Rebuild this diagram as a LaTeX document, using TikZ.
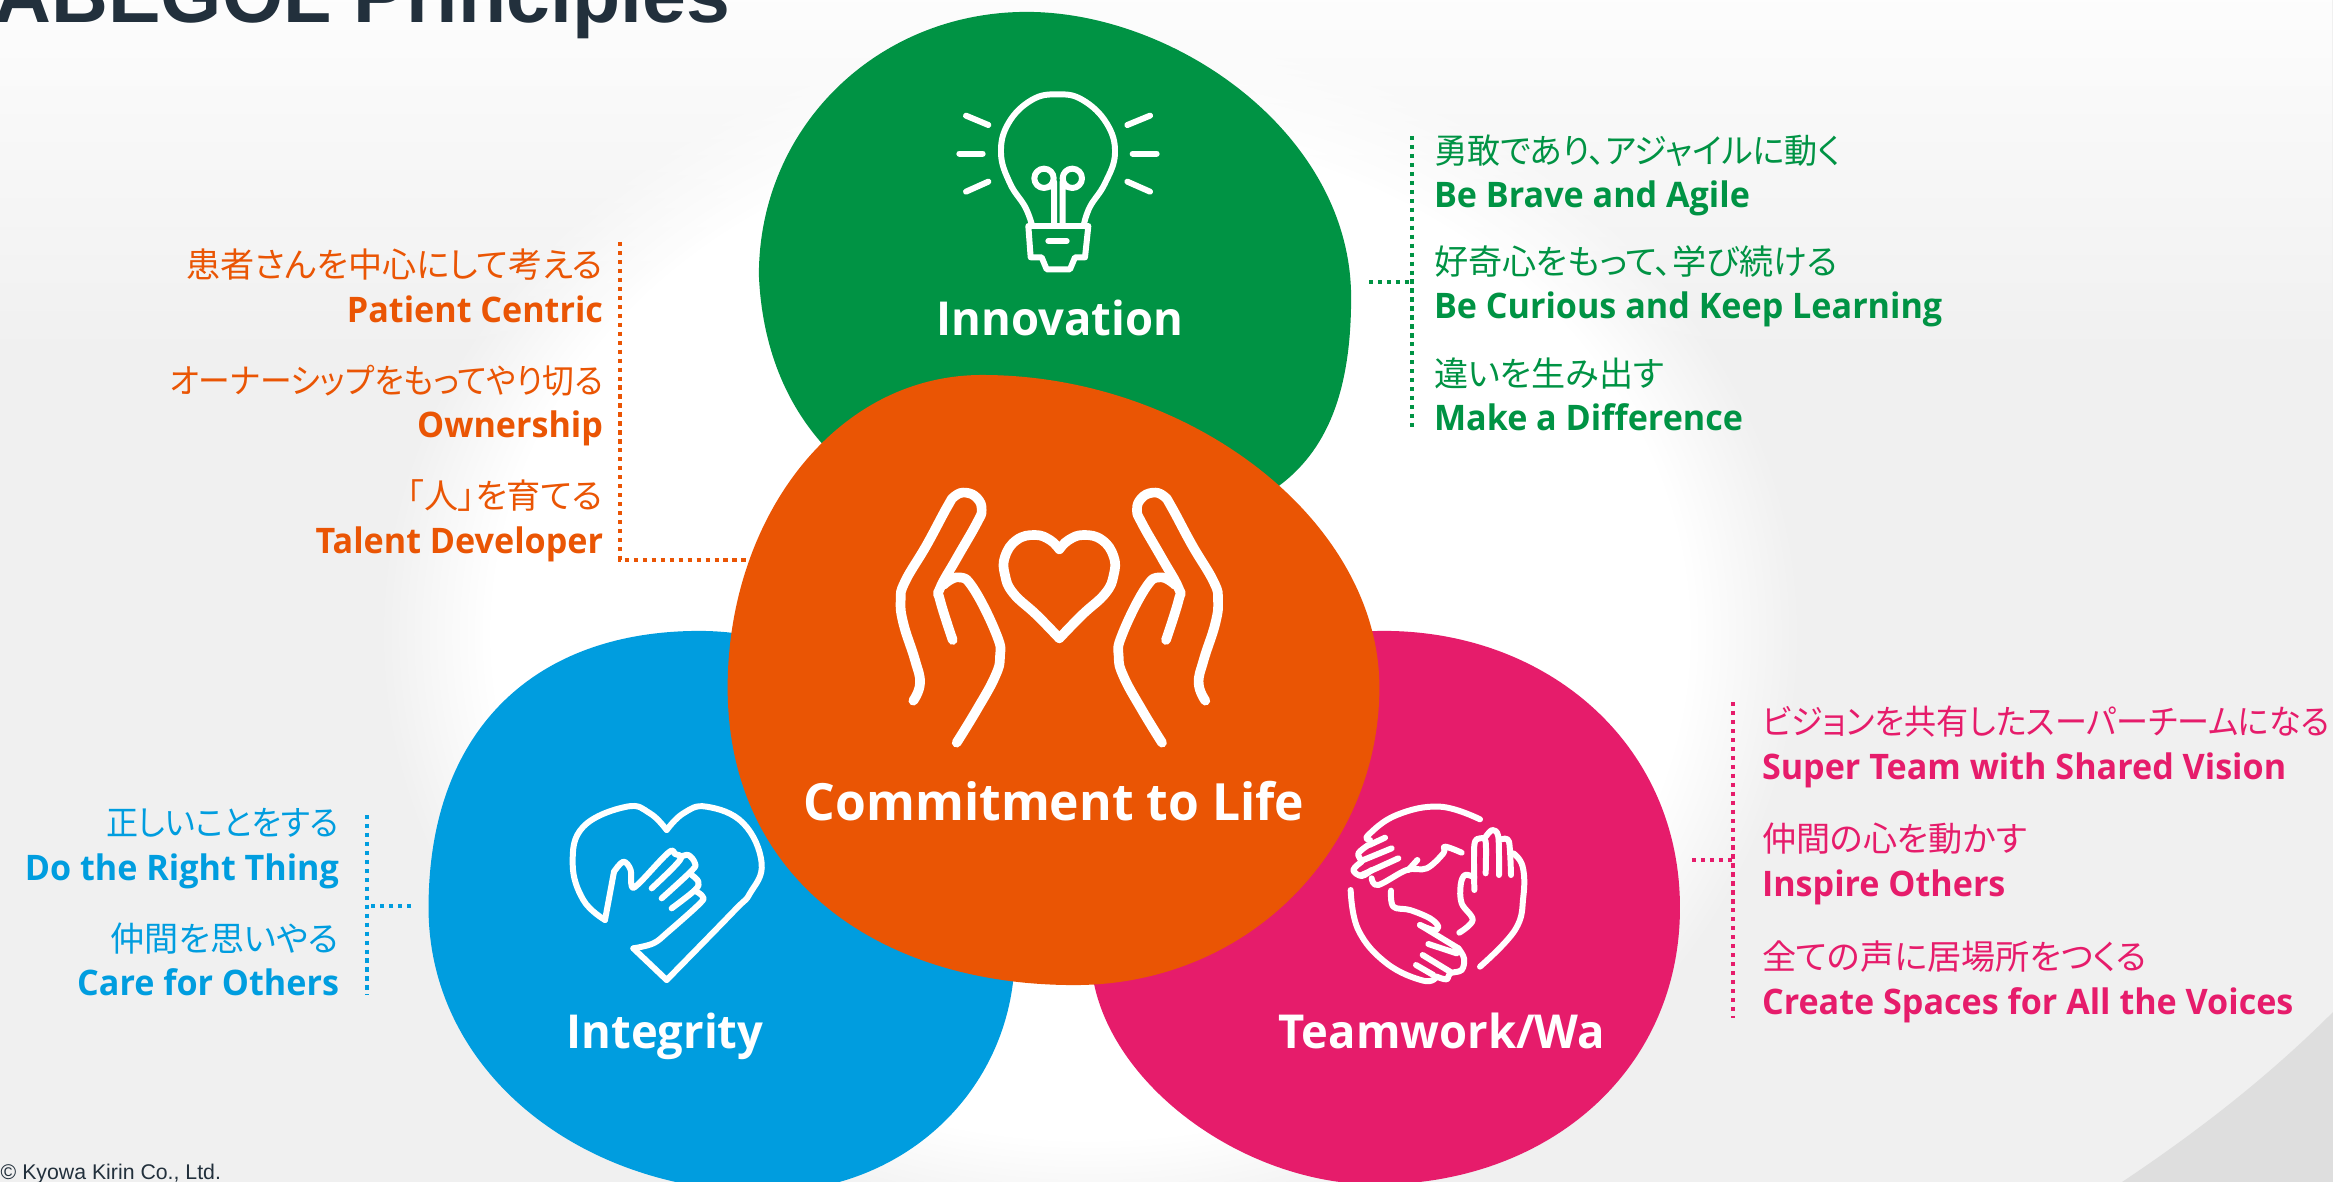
\documentclass[tikz,border=0pt]{standalone}
\usepackage{fontspec}
\usepackage{xcolor}
\usetikzlibrary{positioning,fadings}
\newfontfamily\enfont[FakeStretch=0.97]{Open Sans}
\newfontfamily\jpfont[RawFeature={+palt}]{Noto Sans CJK JP}
\newfontfamily\arialfont{Liberation Sans}
\definecolor{bggray}{HTML}{F0F0F0}
\definecolor{swoosh}{HTML}{DEDEDE}
\definecolor{kkgreen}{HTML}{009344}
\definecolor{kkorange}{HTML}{EA5504}
\definecolor{kkblue}{HTML}{009DDF}
\definecolor{kkpink}{HTML}{E61C6B}
\definecolor{kknavy}{HTML}{22303C}
\pgfdeclareradialshading{glowbg}{\pgfpointorigin}{color(0bp)=(white);color(21bp)=(white);color(25bp)=(bggray);color(50bp)=(bggray)}
\newcommand{\narrowjp}[2]{\scalebox{#1}[1]{#2}}

\begin{document}
\begin{tikzpicture}[
    x=0.01cm, y=-0.01cm,
    icon/.style={draw=white, line width=#1, line cap=round, line join=round},
    icon/.default=1.7pt,
    jptext/.style={inner sep=0pt, outer sep=0pt, text height=8.5pt, text depth=1.5pt, font=\jpfont\fontsize{9.7pt}{11pt}\selectfont},
    entext/.style={inner sep=0pt, outer sep=0pt, text height=8.35pt, text depth=1.65pt, font=\enfont\bfseries\fontsize{10pt}{12pt}\selectfont},
    blobtext/.style={inner sep=0pt, text=white, font=\enfont\bfseries\fontsize{13.3pt}{15pt}\selectfont},
    dots/.style={line width=1.15pt, dash pattern=on 1.2pt off 1.35pt}
]
\path[use as bounding box, clip] (0,0) rectangle (2333,1182);

% background
\fill[bggray] (0,0) rectangle (2333,1182);
\shade[shading=glowbg] (1090,634) ellipse [x radius=710, y radius=600];
\fill[white, path fading=south] (0,-55) rectangle (2333,365);
\fill[swoosh] (2122,1182) .. controls (2200,1130) and (2270,1075) .. (2333,1012) -- (2333,1182) -- cycle;

% blobs
\begin{scope}[scale=1.488]
\fill[kkblue] (470,424) .. controls (360,424) and (288,490) .. (288,610) .. controls (288,720) and (390,801) .. (515,801) .. controls (610,801) and (682,730) .. (682,640) .. controls (682,520) and (580,424) .. (470,424) -- cycle;
\fill[kkpink] (930,424) .. controls (1040,424) and (1129,500) .. (1129,610) .. controls (1129,720) and (1040,796) .. (925,796) .. controls (830,796) and (733,720) .. (733,640) .. controls (733,520) and (820,424) .. (930,424) -- cycle;
\fill[kkgreen] (690,8) .. controls (790,8) and (908,90) .. (908,200) .. controls (908,320) and (850,360) .. (710,360) .. controls (600,360) and (515,300) .. (510,185) .. controls (510,85) and (590,8) .. (690,8) -- cycle;
\fill[kkorange] (660,252) .. controls (800,252) and (927,350) .. (927,462) .. controls (927,570) and (840,662) .. (722,662) .. controls (590,662) and (489,590) .. (489,462) .. controls (489,350) and (560,252) .. (660,252) -- cycle;
\end{scope}

% bulb
\begin{scope}[shift={(900,50)}, scale=1/3]
\draw[icon] plot[smooth, tension=.7] coordinates {(395,522) (375,470) (330,400) (303,310) (325,220) (395,150) (473,133) (548,150) (620,220) (645,310) (615,400) (570,470) (552,522)};
\draw[icon] (385,528) -- (392,622) -- (425,622) -- (440,658) -- (510,658) -- (525,622) -- (555,622) -- (565,528) -- cycle;
\draw[icon] (445,573) -- (500,573);
\draw[icon] (462,522) -- (462,395) -- (450,410) (432,385) circle (29);
\draw[icon] (488,522) -- (488,395) -- (500,410) (517,385) circle (29);
\draw[icon] (198,197) -- (265,225);
\draw[icon] (178,311) -- (248,311);
\draw[icon] (198,425) -- (265,395);
\draw[icon] (750,197) -- (682,225);
\draw[icon] (770,311) -- (698,311);
\draw[icon] (750,425) -- (682,395);
\end{scope}

% hands and heart
\begin{scope}[shift={(860,460)}, scale=1/3]
\draw[icon=2.75pt] plot[smooth, tension=.75] coordinates {(160,722) (180,670) (165,600) (130,490) (122,420) (135,365) (200,255) (262,140) (285,108) (318,98) (352,115) (365,150) (350,190) (290,295) (240,385) (240,420) (278,540)};
\draw[icon=2.75pt] plot[smooth, tension=.75] coordinates {(290,848) (350,750) (405,650) (420,590) (410,525) (340,385) (295,352) (250,375)};
\draw[icon=2.75pt] plot[smooth, tension=.75] coordinates {(598,268) (570,240) (525,225) (470,240) (435,290) (435,345) (460,400) (530,465) (598,535)};
\draw[icon=2.75pt] plot[smooth, tension=.75] coordinates {(598,268) (626,240) (671,225) (726,240) (761,290) (761,345) (736,400) (666,465) (598,535)};
\draw[icon=2.75pt] plot[smooth, tension=.75] coordinates {(1036,722) (1016,670) (1031,600) (1066,490) (1074,420) (1061,365) (996,255) (934,140) (911,108) (878,98) (844,115) (831,150) (846,190) (906,295) (956,385) (956,420) (918,540)};
\draw[icon=2.75pt] plot[smooth, tension=.75] coordinates {(906,848) (846,750) (791,650) (776,590) (786,525) (856,385) (901,352) (946,375)};
\end{scope}

% heart with hand
\begin{scope}[shift={(540,780)}, scale=1/3]
\draw[icon] plot[smooth, tension=.7] coordinates {(195,420) (130,360) (98,250) (130,140) (260,80) (330,100) (380,150)};
\draw[icon] plot[smooth, tension=.7] coordinates {(380,150) (430,100) (500,80) (610,130) (665,250) (630,340) (580,395) (380,600)};
\draw[icon] (380,600) -- (280,505);
\draw[icon] (195,420) -- (222,275);
\draw[icon] plot[smooth, tension=.6] coordinates {(222,275) (250,245) (272,270) (275,318) (295,312) (385,218) (405,222) (420,240) (335,325)};
\draw[icon] plot[smooth, tension=.6] coordinates {(420,232) (445,225) (465,250) (455,272) (365,355)};
\draw[icon] plot[smooth, tension=.6] coordinates {(455,285) (475,305) (465,330) (395,385)};
\draw[icon] plot[smooth, tension=.6] coordinates {(470,335) (488,350) (480,370) (385,455) (340,490) (280,505)};
\end{scope}

% three hands
\begin{scope}[shift={(1330,790)}, scale=1/3]
\draw[icon] plot[smooth, tension=.7] coordinates {(450,88) (330,50) (200,75) (115,135) (120,150)};
\draw[icon] (165,143) -- (118,165) (185,175) -- (95,212) (205,205) -- (95,255);
\draw[icon] plot[smooth, tension=.6] coordinates {(115,165) (85,190) (95,212)};
\draw[icon] plot[smooth, tension=.6] coordinates {(95,215) (70,240) (95,258) (125,240)};
\draw[icon] plot[smooth, tension=.6] coordinates {(125,265) (145,285) (230,240) (290,235) (340,190) (345,170) (395,188)};
\draw[icon] (262,210) -- (235,240);
\draw[icon] plot[smooth, tension=.5] coordinates {(433,300) (433,165) (450,145) (467,155) (467,250)};
\draw[icon] plot[smooth, tension=.5] coordinates {(467,140) (487,120) (505,140) (507,255)};
\draw[icon] plot[smooth, tension=.5] coordinates {(515,148) (537,155) (543,255)};
\draw[icon] plot[smooth, tension=.7] coordinates {(550,190) (578,230) (580,320) (555,420) (450,530)};
\draw[icon] plot[smooth, tension=.6] coordinates {(433,262) (405,255) (392,285) (395,340) (428,390) (388,428)};
\draw[icon] plot[smooth, tension=.6] coordinates {(183,302) (190,350) (240,360) (300,385) (325,410) (310,420) (270,405)};
\draw[icon] (270,405) -- (385,475) (295,462) -- (380,490) (278,495) -- (360,545) (258,525) -- (310,555);
\draw[icon] plot[smooth, tension=.6] coordinates {(385,475) (402,505) (395,540) (360,550) (350,568) (320,560)};
\draw[icon] plot[smooth, tension=.7] coordinates {(62,300) (85,420) (170,520) (280,572) (320,560)};
\end{scope}

% blob names
\node[blobtext] (innovation) at (1060,318) {Innovation};
\node[blobtext, font=\enfont\bfseries\fontsize{14.6pt}{16pt}\selectfont] (commitment) at (1054,801) {Commitment to Life};
\node[blobtext] (integrity) at (665,1036) {Integrity};
\node[blobtext] (teamwork) at (1442,1031) {Teamwork/Wa};

% green texts
\begin{scope}[text=kkgreen]
\node[jptext, anchor=west] (bravejp) at (1434,151) {\narrowjp{.97}{勇敢であり、アジャイルに動く}};
\node[entext, below=2.7pt of bravejp.south west, anchor=north west] (braveen) {Be Brave and Agile};
\node[jptext, below=9pt of braveen.south west, anchor=north west] (curiousjp) {好奇心をもって、学び続ける};
\node[entext, below=2.7pt of curiousjp.south west, anchor=north west] (curiousen) {Be Curious and Keep Learning};
\node[jptext, below=9pt of curiousen.south west, anchor=north west] (diffjp) {違いを生み出す};
\node[entext, below=2.7pt of diffjp.south west, anchor=north west] (diffen) {Make a Difference};
\end{scope}

% orange texts
\begin{scope}[text=kkorange]
\node[jptext, anchor=east] (patientjp) at (603,265) {患者さんを中心にして考える};
\node[entext, below=2.9pt of patientjp.south east, anchor=north east] (patienten) {Patient Centric};
\node[jptext, below=10pt of patienten.south east, anchor=north east] (ownerjp) {\narrowjp{.93}{オーナーシップをもってやり切る}};
\node[entext, below=2.9pt of ownerjp.south east, anchor=north east] (owneren) {Ownership};
\node[jptext, below=10pt of owneren.south east, anchor=north east] (talentjp) {「人」を育てる};
\node[entext, below=2.9pt of talentjp.south east, anchor=north east] (talenten) {Talent Developer};
\end{scope}

% blue texts
\begin{scope}[text=kkblue]
\node[jptext, anchor=east] (rightjp) at (339,823) {\narrowjp{.94}{正しいことをする}};
\node[entext, below=2.9pt of rightjp.south east, anchor=north east] (righten) {Do the Right Thing};
\node[jptext, below=10pt of righten.south east, anchor=north east] (carejp) {仲間を思いやる};
\node[entext, below=2.9pt of carejp.south east, anchor=north east] (careen) {Care for Others};
\end{scope}

% pink texts
\begin{scope}[text=kkpink]
\node[jptext, anchor=west] (visionjp) at (1762,722) {\narrowjp{.94}{ビジョンを共有したスーパーチームになる}};
\node[entext, below=2.9pt of visionjp.south west, anchor=north west] (visionen) {Super Team with Shared Vision};
\node[jptext, below=10.5pt of visionen.south west, anchor=north west] (inspirejp) {仲間の心を動かす};
\node[entext, below=2.9pt of inspirejp.south west, anchor=north west] (inspireen) {Inspire Others};
\node[jptext, below=10.5pt of inspireen.south west, anchor=north west] (voicesjp) {全ての声に居場所をつくる};
\node[entext, below=2.9pt of voicesjp.south west, anchor=north west] (voicesen) {Create Spaces for All the Voices};
\end{scope}

% dotted brackets
\coordinate (greentop) at (1412,136);
\coordinate (greenbot) at (1412,428);
\coordinate (greenstub) at (1369,282);
\coordinate (orangetop) at (620,242);
\coordinate (orangeend) at (759,560);
\coordinate (bluetop) at (367,815);
\coordinate (bluebot) at (367,995);
\coordinate (bluestub) at (411,906);
\coordinate (pinktop) at (1733,702);
\coordinate (pinkbot) at (1733,1018);
\coordinate (pinkstub) at (1692,860);
\draw[dots, kkgreen] (greentop) -- (greenbot);
\draw[dots, kkgreen] (greenstub) -- (greenstub -| greentop);
\draw[dots, kkorange] (orangetop) |- (orangeend);
\draw[dots, kkblue] (bluetop) -- (bluebot);
\draw[dots, kkblue] (bluestub) -- (bluestub -| bluetop);
\draw[dots, kkpink] (pinktop) -- (pinkbot);
\draw[dots, kkpink] (pinkstub) -- (pinkstub -| pinktop);

% title and footer
\node[inner sep=0pt, anchor=base west, text=kknavy, font=\arialfont\bfseries\fontsize{22.4pt}{26pt}\selectfont] (title) at (-6,23) {ABEGOL Principles};
\node[inner sep=0pt, anchor=base west, text=kknavy, font=\arialfont\fontsize{6.05pt}{7pt}\selectfont] (footer) at (0,1179) {© Kyowa Kirin Co., Ltd.};
\end{tikzpicture}
\end{document}
